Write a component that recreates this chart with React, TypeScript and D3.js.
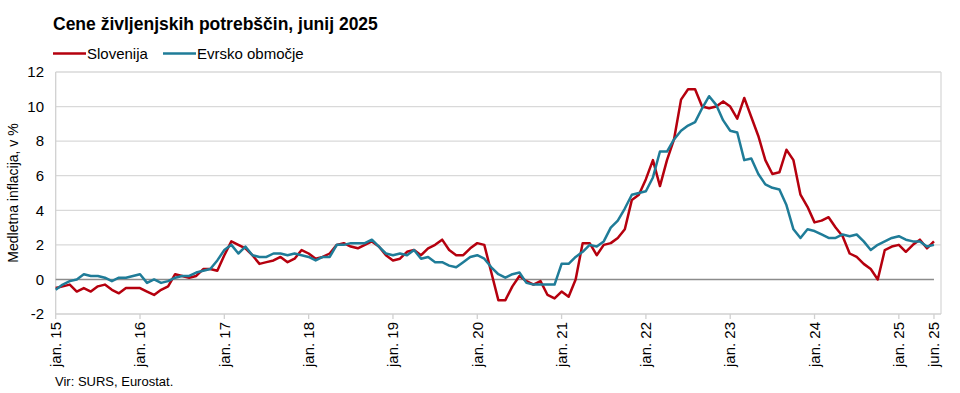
import { useEffect, useRef } from 'react'
import * as d3 from 'd3'

// monthly data jan. 2015 – jun. 2025, annual inflation in %
const SLOVENIA = [
  -0.5, -0.4, -0.3, -0.7, -0.5, -0.7, -0.4, -0.3, -0.6, -0.8, -0.5, -0.5,
  -0.5, -0.7, -0.9, -0.6, -0.4, 0.3, 0.2, 0.1, 0.2, 0.6, 0.6, 0.5,
  1.4, 2.2, 2.0, 1.8, 1.4, 0.9, 1.0, 1.1, 1.3, 1.0, 1.2, 1.7,
  1.5, 1.2, 1.3, 1.5, 2.0, 2.1, 1.9, 1.8, 2.0, 2.2, 1.9, 1.4,
  1.1, 1.2, 1.6, 1.7, 1.4, 1.8, 2.0, 2.3, 1.7, 1.4, 1.4, 1.8,
  2.1, 2.0, 0.4, -1.2, -1.2, -0.4, 0.2, -0.1, -0.3, -0.1, -0.9, -1.1,
  -0.7, -1.0, 0.0, 2.1, 2.1, 1.4, 2.0, 2.1, 2.4, 2.9, 4.6, 4.9,
  5.8, 6.9, 5.4, 6.9, 8.1, 10.4, 11.0, 11.0, 10.0, 9.9, 10.0, 10.3,
  10.0, 9.3, 10.5, 9.4, 8.3, 6.9, 6.1, 6.2, 7.5, 6.9, 4.9, 4.2,
  3.3, 3.4, 3.6, 3.0, 2.5, 1.5, 1.3, 0.9, 0.6, 0.0, 1.7, 1.9,
  2.0, 1.6, 2.0, 2.3, 1.8, 2.2,
]

const EURO_AREA = [
  -0.6, -0.3, -0.1, 0.0, 0.3, 0.2, 0.2, 0.1, -0.1, 0.1, 0.1, 0.2,
  0.3, -0.2, 0.0, -0.2, -0.1, 0.1, 0.2, 0.2, 0.4, 0.5, 0.6, 1.1,
  1.7, 2.0, 1.5, 1.9, 1.4, 1.3, 1.3, 1.5, 1.5, 1.4, 1.5, 1.4,
  1.3, 1.1, 1.3, 1.3, 2.0, 2.0, 2.1, 2.1, 2.1, 2.3, 1.9, 1.5,
  1.4, 1.5, 1.4, 1.7, 1.2, 1.3, 1.0, 1.0, 0.8, 0.7, 1.0, 1.3,
  1.4, 1.2, 0.7, 0.3, 0.1, 0.3, 0.4, -0.2, -0.3, -0.3, -0.3, -0.3,
  0.9, 0.9, 1.3, 1.6, 2.0, 1.9, 2.2, 3.0, 3.4, 4.1, 4.9, 5.0,
  5.1, 5.9, 7.4, 7.4, 8.1, 8.6, 8.9, 9.1, 9.9, 10.6, 10.1, 9.2,
  8.6, 8.5, 6.9, 7.0, 6.1, 5.5, 5.3, 5.2, 4.3, 2.9, 2.4, 2.9,
  2.8, 2.6, 2.4, 2.4, 2.6, 2.5, 2.6, 2.2, 1.7, 2.0, 2.2, 2.4,
  2.5, 2.3, 2.2, 2.2, 1.9, 2.0,
]

const X_TICKS = [0, 12, 24, 36, 48, 60, 72, 84, 96, 108, 120, 125]
const X_TICK_LABELS = [
  'jan. 15', 'jan. 16', 'jan. 17', 'jan. 18', 'jan. 19', 'jan. 20',
  'jan. 21', 'jan. 22', 'jan. 23', 'jan. 24', 'jan. 25', 'jun. 25',
]
const Y_TICKS = [-2, 0, 2, 4, 6, 8, 10, 12]

const SERIES = [
  { name: 'Slovenija', values: SLOVENIA, color: '#B5000E' },
  { name: 'Evrsko območje', values: EURO_AREA, color: '#1F7C98' },
]

const FONT = '"Liberation Sans", Arial, sans-serif'

function InflationChart() {
  const svgRef = useRef<SVGSVGElement>(null)

  useEffect(() => {
    if (!svgRef.current) return
    const svg = d3.select(svgRef.current)
    svg.selectAll('*').remove()

    const W = 960
    const H = 393
    const margin = { top: 72, right: 19, bottom: 79, left: 55.7 }
    const h = H - margin.top - margin.bottom

    const x = d3.scaleLinear().domain([0, 126]).range([margin.left, W - margin.right])
    const y = d3.scaleLinear().domain([-2, 12]).range([margin.top + h, margin.top])

    // Title
    svg.append('text').attr('x', 53).attr('y', 29.5)
      .attr('font-family', FONT).attr('font-size', '17.5px').attr('font-weight', 'bold')
      .attr('fill', '#000').text('Cene življenjskih potrebščin, junij 2025')

    // Legend
    let lx = 53
    SERIES.forEach((s, i) => {
      const lg = svg.append('g').attr('transform', `translate(${lx},53.5)`)
      lg.append('line').attr('x1', 0).attr('x2', 33).attr('stroke', s.color).attr('stroke-width', 2.5)
      lg.append('text').attr('x', 34).attr('y', 5.5)
        .attr('font-family', FONT).attr('font-size', '15px').attr('fill', '#000').text(s.name)
      lx += i === 0 ? 110 : 0
    })

    // Gridlines
    svg.append('g').selectAll('line').data(Y_TICKS.filter(d => d !== 0 && d !== -2)).join('line')
      .attr('x1', x(0)).attr('x2', x(126))
      .attr('y1', d => y(d)).attr('y2', d => y(d))
      .attr('stroke', '#D9D9D9').attr('stroke-width', 1.3)

    // Plot border (left, right, bottom)
    svg.append('line').attr('x1', x(0)).attr('x2', x(0)).attr('y1', y(12)).attr('y2', y(-2))
      .attr('stroke', '#D0D0D0').attr('stroke-width', 1.3)
    svg.append('line').attr('x1', x(126)).attr('x2', x(126)).attr('y1', y(12)).attr('y2', y(-2))
      .attr('stroke', '#D9D9D9').attr('stroke-width', 1.3)
    svg.append('line').attr('x1', x(0)).attr('x2', x(126)).attr('y1', y(-2)).attr('y2', y(-2))
      .attr('stroke', '#D0D0D0').attr('stroke-width', 1.3)

    // Zero line
    svg.append('line').attr('x1', x(0)).attr('x2', x(125)).attr('y1', y(0)).attr('y2', y(0))
      .attr('stroke', '#8C8C8C').attr('stroke-width', 1.5)

    // Y tick labels
    svg.append('g').selectAll('text').data(Y_TICKS).join('text')
      .attr('x', 44).attr('y', d => y(d)).attr('dy', '0.35em')
      .attr('text-anchor', 'end').attr('font-family', FONT).attr('font-size', '15px')
      .attr('fill', '#000').text(d => String(d))

    // Y axis title
    svg.append('text')
      .attr('transform', `translate(18,${y(5)}) rotate(-90)`)
      .attr('text-anchor', 'middle').attr('font-family', FONT).attr('font-size', '14px')
      .attr('fill', '#000').text('Medletna inflacija, v %')

    // X ticks and labels
    const xg = svg.append('g')
    X_TICKS.forEach((m, i) => {
      xg.append('line').attr('x1', x(m)).attr('x2', x(m)).attr('y1', y(-2)).attr('y2', y(-2) + 5)
        .attr('stroke', '#D0D0D0').attr('stroke-width', 1.3)
      xg.append('text')
        .attr('transform', `translate(${x(m)},${y(-2) + 8}) rotate(-90)`)
        .attr('dy', '0.35em').attr('text-anchor', 'end')
        .attr('font-family', FONT).attr('font-size', '15px').attr('fill', '#000')
        .text(X_TICK_LABELS[i])
    })

    // Lines
    const line = d3.line<number>().x((_, i) => x(i)).y(d => y(d))
    SERIES.forEach(s => {
      svg.append('path').datum(s.values).attr('d', line)
        .attr('fill', 'none').attr('stroke', s.color).attr('stroke-width', 2.5)
        .attr('stroke-linejoin', 'round')
    })

    // Source
    svg.append('text').attr('x', 55).attr('y', 386)
      .attr('font-family', FONT).attr('font-size', '13px').attr('fill', '#000')
      .text('Vir: SURS, Eurostat.')
  }, [])

  return <svg ref={svgRef} width={960} height={393} style={{ display: 'block' }} />
}

export default function App() {
  return (
    <div style={{ position: 'fixed', left: 0, top: 0, background: '#fff' }}>
      <InflationChart />
    </div>
  )
}
